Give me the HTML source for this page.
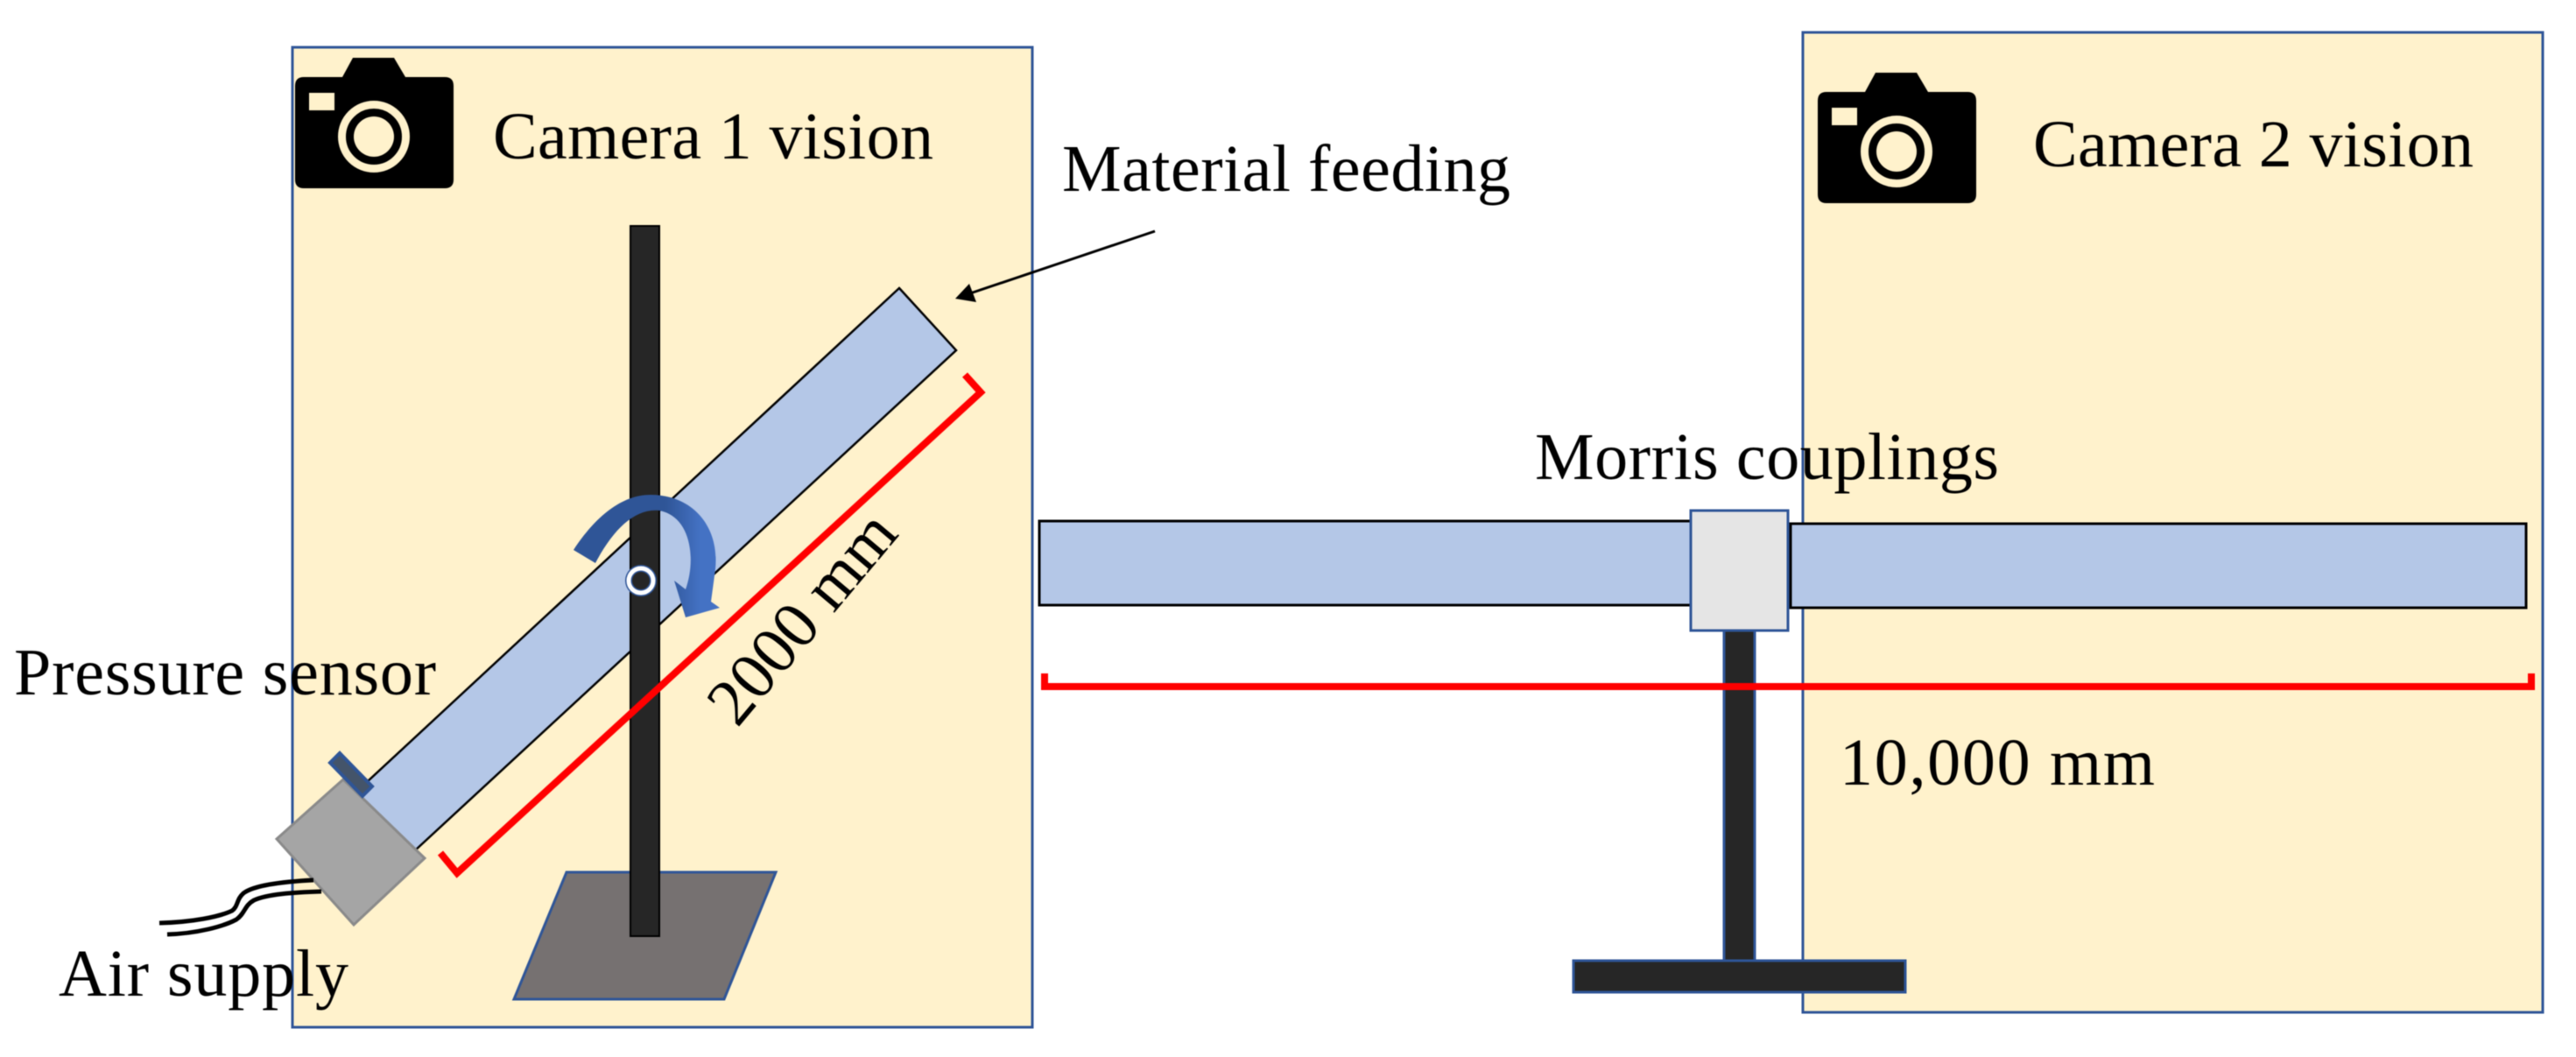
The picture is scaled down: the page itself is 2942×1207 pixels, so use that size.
<!DOCTYPE html>
<html><head><meta charset="utf-8"><style>html,body{margin:0;padding:0;background:#fff}svg{display:block;filter:blur(0.6px)}text{font-family:"Liberation Serif",serif;font-size:76px;fill:#000}</style></head><body>
<svg width="2942" height="1207" viewBox="0 0 2942 1207" xmlns="http://www.w3.org/2000/svg">
<defs>
<g id="cam"><path fill="#000" d="M403 66H450L463 88H508Q518 88 518 98V205Q518 215 508 215H347Q337 215 337 205V98Q337 88 347 88H391Z"/><rect x="353" y="106" width="29" height="20" fill="#fff2cc"/><circle cx="427" cy="156" r="36.5" fill="none" stroke="#fff2cc" stroke-width="9"/><circle cx="427" cy="156" r="23" fill="#fff2cc"/></g>
<linearGradient id="rot" gradientUnits="userSpaceOnUse" x1="760" x2="800" y1="0" y2="0"><stop offset="0" stop-color="#2f5597"/><stop offset="1" stop-color="#4472c4"/></linearGradient>
</defs>
<rect width="2942" height="1207" fill="#fff"/>
<rect x="334" y="54" width="845" height="1119" fill="#fff2cc" stroke="#2f5597" stroke-width="3"/>
<rect x="2059" y="37" width="845" height="1119" fill="#fff2cc" stroke="#2f5597" stroke-width="3"/>
<use href="#cam"/><use href="#cam" transform="translate(1739 17)"/>
<polygon points="647,996 886,996 827,1141 587,1141" fill="#767171" stroke="#2f5597" stroke-width="3"/>
<polygon points="1027,329 1092,400 459,985 405,906" fill="#b4c7e7" stroke="#000" stroke-width="2.5"/>
<rect x="720" y="258" width="33" height="811" fill="#262626" stroke="#000" stroke-width="2"/>
<polyline points="1102,428 1120,448 522,997 503,974" fill="none" stroke="#f00" stroke-width="8"/>
<polygon points="392,890 485,980 404,1056 316,958" fill="#a5a5a5" stroke="#8a8a8a" stroke-width="3"/>
<polygon points="388,860 425,898 414,909 377,871" fill="#44546a" stroke="#2f5597" stroke-width="4"/>
<path d="M182,1054C220,1053 250,1047 265,1040C272,1035 270,1027 278,1020C290,1011 320,1007 358,1005M191,1067C225,1066 255,1058 270,1050C280,1043 279,1034 290,1028C305,1021 335,1019 367,1018" fill="none" stroke="#000" stroke-width="5"/>
<line x1="1319" y1="264" x2="1108" y2="335" stroke="#000" stroke-width="3"/>
<polygon points="1091,341 1107,324 1115,345" fill="#000"/>
<path d="M655,628C680,590 710,565 743,565C790,565 822,600 817,650L812,687L822,694L783,705L770,663L783,673C795,640 790,590 753,583C725,580 700,605 680,643Z" fill="url(#rot)"/>
<circle cx="732" cy="663" r="14" fill="none" stroke="#2f5597" stroke-width="8"/>
<circle cx="732" cy="663" r="14" fill="none" stroke="#fff" stroke-width="5"/>
<rect x="1187" y="595" width="745" height="96" fill="#b4c7e7" stroke="#000" stroke-width="3"/>
<rect x="2045" y="598" width="840" height="96" fill="#b4c7e7" stroke="#000" stroke-width="3"/>
<rect x="1969" y="715" width="35" height="385" fill="#262626" stroke="#2f5597" stroke-width="3"/>
<rect x="1931" y="583" width="111" height="137" fill="#e5e5e5" stroke="#2f5597" stroke-width="3"/>
<rect x="1797" y="1097" width="379" height="36" fill="#262626" stroke="#2f5597" stroke-width="3"/>
<polyline points="1193,769 1193,784 2891,784 2891,769" fill="none" stroke="#f00" stroke-width="8"/>
<text x="563" y="181" textLength="503">Camera 1 vision</text>
<text x="2322" y="190" textLength="503">Camera 2 vision</text>
<text x="1213" y="218" textLength="512">Material feeding</text>
<text x="1753" y="547" textLength="530">Morris couplings</text>
<text x="2101" y="896" textLength="360">10,000 mm</text>
<text x="16" y="793" textLength="482">Pressure sensor</text>
<text x="67" y="1137" textLength="331">Air supply</text>
<text transform="translate(842 832) rotate(-50)">2000 mm</text>
</svg>
</body></html>
